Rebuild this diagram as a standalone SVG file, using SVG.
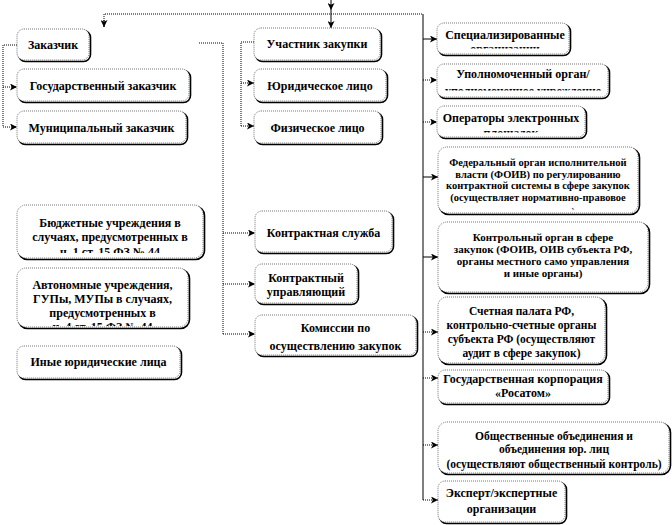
<svg xmlns="http://www.w3.org/2000/svg" width="672" height="525" viewBox="0 0 672 525" font-family="'Liberation Serif', serif">
<style>
.sh{fill:none;stroke:#000;stroke-width:1.6}
.bx{fill:#fff;stroke:#555;stroke-width:0.8;stroke-dasharray:1 1}
text{font-family:'Liberation Serif',serif;font-weight:bold;font-size:12px;fill:#000;text-anchor:middle}
.s11{font-size:10.5px}
.s12{font-size:11px}
.s115{font-size:11.5px}
.dot{fill:none;stroke:#000;stroke-width:1;stroke-dasharray:1 1}
.sol{fill:none;stroke:#000;stroke-width:1}
</style>
<defs>
<marker id="ah" viewBox="0 0 8 8" refX="8" refY="4" markerWidth="7" markerHeight="7" orient="auto" markerUnits="userSpaceOnUse">
<path d="M0,0 L8,4 L0,8 L2,4 z" fill="#000"/>
</marker>
<clipPath id="c-spec"><rect x="437" y="23" width="132" height="25.5"/></clipPath>
<clipPath id="c-upoln"><rect x="437" y="64" width="171" height="26.5"/></clipPath>
<clipPath id="c-oper"><rect x="437" y="106" width="148" height="26.5"/></clipPath>
<clipPath id="c-foiv"><rect x="438" y="147" width="200" height="62.5"/></clipPath>
<clipPath id="c-byud"><rect x="17" y="205" width="186" height="48"/></clipPath>
<clipPath id="c-avt"><rect x="17" y="268" width="171" height="58"/></clipPath>
</defs>

<g id="connectors">
<line class="sol" x1="331" y1="0" x2="331" y2="10" marker-end="url(#ah)"/>
<line class="sol" x1="331" y1="10" x2="331" y2="28" marker-end="url(#ah)"/>
<polyline class="dot" points="104,27 104,14 423,14"/>
<line class="sol" x1="104" y1="20" x2="104" y2="27" marker-end="url(#ah)"/>
<line class="sol" x1="423" y1="14" x2="423" y2="500"/>
<line class="sol" x1="423" y1="39" x2="437" y2="39" marker-end="url(#ah)"/>
<line class="dot" x1="423" y1="80" x2="437" y2="80" marker-end="url(#ah)"/>
<line class="dot" x1="423" y1="122" x2="437" y2="122" marker-end="url(#ah)"/>
<line class="sol" x1="423" y1="177" x2="438" y2="177" marker-end="url(#ah)"/>
<line class="sol" x1="423" y1="257" x2="438" y2="257" marker-end="url(#ah)"/>
<line class="dot" x1="423" y1="332" x2="438" y2="332" marker-end="url(#ah)"/>
<line class="dot" x1="423" y1="378" x2="438" y2="378" marker-end="url(#ah)"/>
<line class="dot" x1="423" y1="445" x2="438" y2="445" marker-end="url(#ah)"/>
<line class="dot" x1="423" y1="500" x2="438" y2="500" marker-end="url(#ah)"/>
<polyline class="dot" points="17,45 3,45 3,127"/>
<line class="dot" x1="3" y1="87" x2="17" y2="87" marker-end="url(#ah)"/>
<line class="dot" x1="3" y1="127" x2="17" y2="127" marker-end="url(#ah)"/>
<polyline class="dot" points="199,43 223,43 223,334"/>
<line class="dot" x1="223" y1="233" x2="255" y2="233" marker-end="url(#ah)"/>
<line class="dot" x1="223" y1="284" x2="255" y2="284" marker-end="url(#ah)"/>
<line class="dot" x1="223" y1="334" x2="255" y2="334" marker-end="url(#ah)"/>
<polyline class="dot" points="254,42 241,42 241,126"/>
<line class="dot" x1="241" y1="83" x2="254" y2="83" marker-end="url(#ah)"/>
<line class="dot" x1="241" y1="126" x2="254" y2="126" marker-end="url(#ah)"/>
</g>

<g id="zakazchik"><rect class="sh" x="18.5" y="30.5" width="72" height="31" rx="7"/><rect class="bx" x="17" y="29" width="72" height="31" rx="7"/><text x="53" y="49">Заказчик</text></g>
<g id="gos"><rect class="sh" x="18.5" y="70.5" width="172" height="32" rx="7"/><rect class="bx" x="17" y="69" width="172" height="32" rx="7"/><text x="103" y="89.5">Государственный заказчик</text></g>
<g id="mun"><rect class="sh" x="18.5" y="112.5" width="169" height="32" rx="7"/><rect class="bx" x="17" y="111" width="169" height="32" rx="7"/><text x="101.5" y="131.5">Муниципальный заказчик</text></g>

<g id="uchastnik"><rect class="sh" x="255.5" y="29.5" width="126" height="32" rx="7"/><rect class="bx" x="254" y="28" width="126" height="32" rx="7"/><text x="317" y="48">Участник закупки</text></g>
<g id="yur"><rect class="sh" x="255.5" y="70.5" width="132" height="32" rx="7"/><rect class="bx" x="254" y="69" width="132" height="32" rx="7"/><text x="320" y="89.5">Юридическое лицо</text></g>
<g id="fiz"><rect class="sh" x="255.5" y="112.5" width="127" height="32" rx="7"/><rect class="bx" x="254" y="111" width="127" height="32" rx="7"/><text x="317.5" y="131.5">Физическое лицо</text></g>

<g id="spec"><rect class="sh" x="438.5" y="24.5" width="132" height="31" rx="7"/><rect class="bx" x="437" y="23" width="132" height="31" rx="7"/><g clip-path="url(#c-spec)"><text x="505" y="39">Специализированные</text><text x="505" y="53">организации</text></g></g>
<g id="upoln"><rect class="sh" x="438.5" y="65.5" width="171" height="33" rx="7"/><rect class="bx" x="437" y="64" width="171" height="33" rx="7"/><g clip-path="url(#c-upoln)"><text x="523" y="77.5">Уполномоченный орган/</text><text x="523" y="95">уполномоченное учреждение</text></g></g>
<g id="oper"><rect class="sh" x="438.5" y="107.5" width="148" height="31" rx="7"/><rect class="bx" x="437" y="106" width="148" height="31" rx="7"/><g clip-path="url(#c-oper)"><text x="511" y="122">Операторы электронных</text><text x="511" y="137">площадок</text></g></g>
<g id="foiv"><rect class="sh" x="439.5" y="148.5" width="200" height="66" rx="9"/><rect class="bx" x="438" y="147" width="200" height="66" rx="9"/><g clip-path="url(#c-foiv)"><text class="s11" x="538" y="166">Федеральный орган исполнительной</text><text class="s11" x="538" y="177.5">власти (ФОИВ) по регулированию</text><text class="s11" x="538" y="189">контрактной системы в сфере закупок</text><text class="s11" x="538" y="201">(осуществляет нормативно-правовое</text><text class="s11" x="538" y="214.5">регулирование)</text></g></g>
<g id="kontrol"><rect class="sh" x="439.5" y="223.5" width="210" height="70" rx="9"/><rect class="bx" x="438" y="222" width="210" height="70" rx="9"/><text class="s12" x="543" y="241">Контрольный орган в сфере</text><text class="s12" x="543" y="253">закупок (ФОИВ, ОИВ субъекта РФ,</text><text class="s12" x="543" y="265">органы местного само управления</text><text class="s12" x="543" y="277">и иные органы)</text></g>
<g id="schet"><rect class="sh" x="439.5" y="298.5" width="167" height="66" rx="9"/><rect class="bx" x="438" y="297" width="167" height="66" rx="9"/><text class="s115" x="521.5" y="315">Счетная палата РФ,</text><text class="s115" x="521.5" y="329">контрольно-счетные органы</text><text class="s115" x="521.5" y="343">субъекта РФ (осуществляют</text><text class="s115" x="521.5" y="357">аудит в сфере закупок)</text></g>
<g id="rosatom"><rect class="sh" x="439.5" y="371.5" width="170" height="33" rx="7"/><rect class="bx" x="438" y="370" width="170" height="33" rx="7"/><text x="523" y="382.5">Государственная корпорация</text><text x="523" y="396.5">«Росатом»</text></g>
<g id="obshch"><rect class="sh" x="439.5" y="423.5" width="231" height="51" rx="9"/><rect class="bx" x="438" y="422" width="231" height="51" rx="9"/><text class="s115" x="554" y="439.5">Общественные объединения и</text><text class="s115" x="554" y="452.5">объединения юр. лиц</text><text class="s115" x="554" y="467.5">(осуществляют общественный контроль)</text></g>
<g id="ekspert"><rect class="sh" x="439.5" y="482.5" width="127" height="41" rx="7"/><rect class="bx" x="438" y="481" width="127" height="41" rx="7"/><text x="501.5" y="496.5">Эксперт/экспертные</text><text x="501.5" y="512.5">организации</text></g>

<g id="byudzh"><rect class="sh" x="18.5" y="206.5" width="186" height="53" rx="9"/><rect class="bx" x="17" y="205" width="186" height="53" rx="9"/><g clip-path="url(#c-byud)"><text x="110" y="226.5">Бюджетные учреждения в</text><text x="110" y="241">случаях, предусмотренных в</text><text x="110" y="256">ч. 1 ст. 15 ФЗ № 44</text></g></g>
<g id="avton"><rect class="sh" x="18.5" y="269.5" width="171" height="59" rx="9"/><rect class="bx" x="17" y="268" width="171" height="59" rx="9"/><g clip-path="url(#c-avt)"><text x="102.5" y="289">Автономные учреждения,</text><text x="102.5" y="303">ГУПы, МУПы в случаях,</text><text x="102.5" y="317">предусмотренных в</text><text x="102.5" y="331">ч. 4 ст. 15 ФЗ № 44</text></g></g>
<g id="inye"><rect class="sh" x="18.5" y="347.5" width="163" height="32" rx="7"/><rect class="bx" x="17" y="346" width="163" height="32" rx="7"/><text x="98.5" y="366">Иные юридические лица</text></g>

<g id="kontr-sluzhba"><rect class="sh" x="256.5" y="212.5" width="137" height="41" rx="7"/><rect class="bx" x="255" y="211" width="137" height="41" rx="7"/><text x="323.5" y="237">Контрактная служба</text></g>
<g id="kontr-upr"><rect class="sh" x="256.5" y="265.5" width="102" height="39" rx="7"/><rect class="bx" x="255" y="264" width="102" height="39" rx="7"/><text x="306" y="281.5">Контрактный</text><text x="306" y="296">управляющий</text></g>
<g id="komissii"><rect class="sh" x="256.5" y="316.5" width="161" height="40" rx="7"/><rect class="bx" x="255" y="315" width="161" height="40" rx="7"/><text x="335.5" y="331.5">Комиссии по</text><text x="335.5" y="349.5">осуществлению закупок</text></g>
</svg>
